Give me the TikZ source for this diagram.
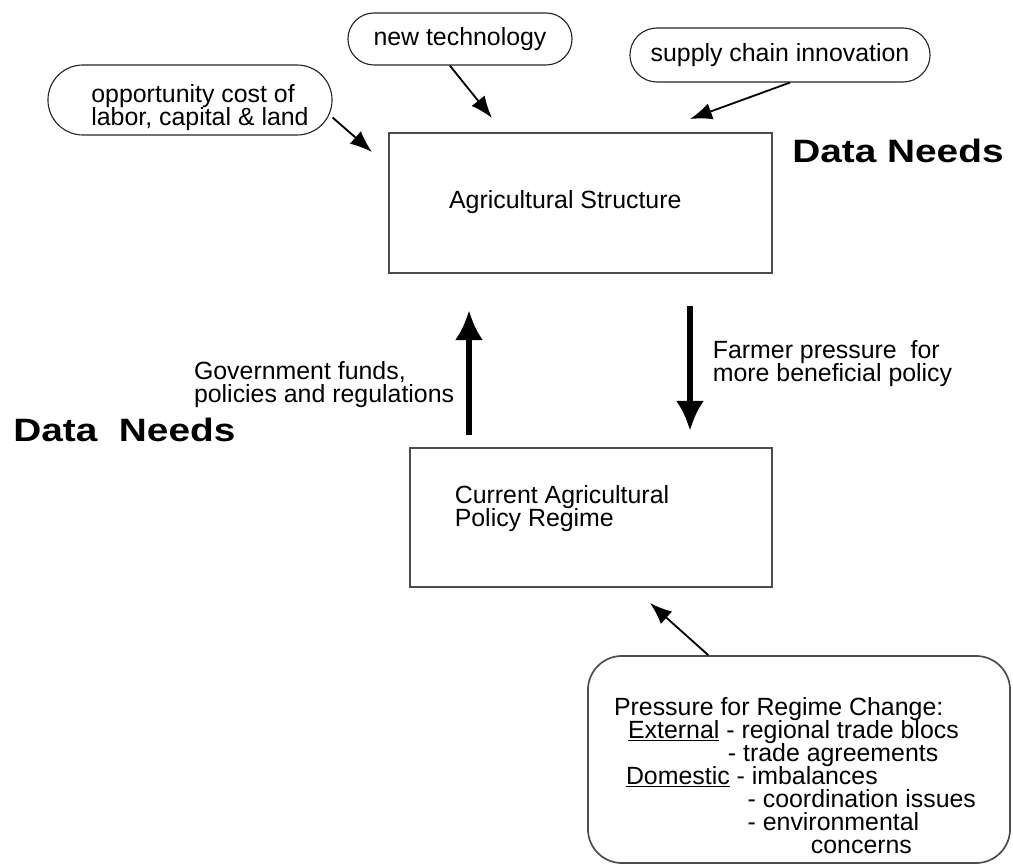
\documentclass[tikz,border=0pt]{standalone}
\usepackage{fontspec}
\setmainfont{Liberation Sans}
\newfontfamily\needsfont{Liberation Sans}[FakeStretch=1.2]
\usetikzlibrary{positioning,arrows.meta}
\newcommand\tightlines{\lineskiplimit=-20pt\relax}

\tikzset{
  bubble/.style={draw=black!85, line width=0.8pt, rectangle, align=center, inner sep=0pt},
  box/.style={draw=black!70, line width=1.2pt, rectangle, inner sep=0pt},
  thinarrow/.style={line width=1.3pt, -{Latex[length=0.55cm, width=0.42cm]}},
  bigarrow/.style={line width=4.2pt, -{Latex[length=0.75cm, width=0.7cm]}},
  needs/.style={font=\needsfont\bfseries\fontsize{23}{26}\selectfont, anchor=base west, inner sep=0pt}
}

\begin{document}
\begin{tikzpicture}[x=0.025cm, y=-0.025cm, font=\fontsize{17.7}{16.4}\selectfont\tightlines]
\useasboundingbox (0,0) rectangle (1013,865);

% influences on the structure
\node[bubble, minimum width=7.1cm, minimum height=1.75cm, rounded corners=0.875cm, label={[xshift=0.25cm, yshift=-0.18cm, align=left]center:{opportunity cost of\\labor, capital \& land}}] (opp) at (190,100) {};
\node[bubble, minimum width=5.6cm, minimum height=1.3cm, rounded corners=0.65cm] (tech) at (460,39) {new technology};
\node[bubble, minimum width=7.5cm, minimum height=1.35cm, rounded corners=0.675cm] (supply) at (780,55) {supply chain innovation};

\node[box, minimum width=9.575cm, minimum height=3.5cm, label={[xshift=-0.38cm, yshift=0.02cm]center:Agricultural Structure}] (agri) at (580.5,203) {};

\node[box, minimum width=9.05cm, minimum height=3.475cm, label={[xshift=-0.725cm, yshift=0.22cm, align=left]center:{Current Agricultural\\Policy Regime}}] (policy) at (591,517.5) {};

\node[box, rounded corners=0.85cm, minimum width=10.55cm, minimum height=5.175cm, label={[xshift=-0.1cm, yshift=-0.4cm, align=left]center:{Pressure for Regime Change:\\
\hspace*{10pt}\underline{External} - regional trade blocs\\
\hspace*{81pt}- trade agreements\\
\hspace*{8.5pt}\underline{Domestic} - imbalances\\
\hspace*{95pt}- coordination issues\\
\hspace*{95pt}- environmental\\
\hspace*{140pt}concerns}}] (pressure) at (799,759.5) {};

\node[needs] (needsright) at (792,163) {Data Needs};
\node[needs] (needsleft) at (13,442) {Data\ \ Needs};

\coordinate (oppend) at (372,152);
\coordinate (techend) at (492,118);
\coordinate (supplyend) at (690,119);
\coordinate (pressureend) at (650,603);
\coordinate (govfrom) at (469,435);
\coordinate (govto) at (469,310);
\coordinate (farmfrom) at (690,306);
\coordinate (farmto) at (690,431);

\draw[thinarrow] (opp.-7) -- (oppend);
\draw[thinarrow] (tech.-111) -- (techend);
\draw[thinarrow] (supply.-70) -- (supplyend);
\draw[thinarrow] (pressure.131) -- (pressureend);

\draw[bigarrow] (govfrom) -- node[pos=0.4, left=0.18cm, align=left] (govtext) {Government funds,\\policies and regulations} (govto);
\draw[bigarrow] (farmfrom) -- node[pos=0.46, right=0.38cm, align=left] (farmtext) {Farmer pressure\ \ for\\more beneficial policy} (farmto);

\end{tikzpicture}
\end{document}
